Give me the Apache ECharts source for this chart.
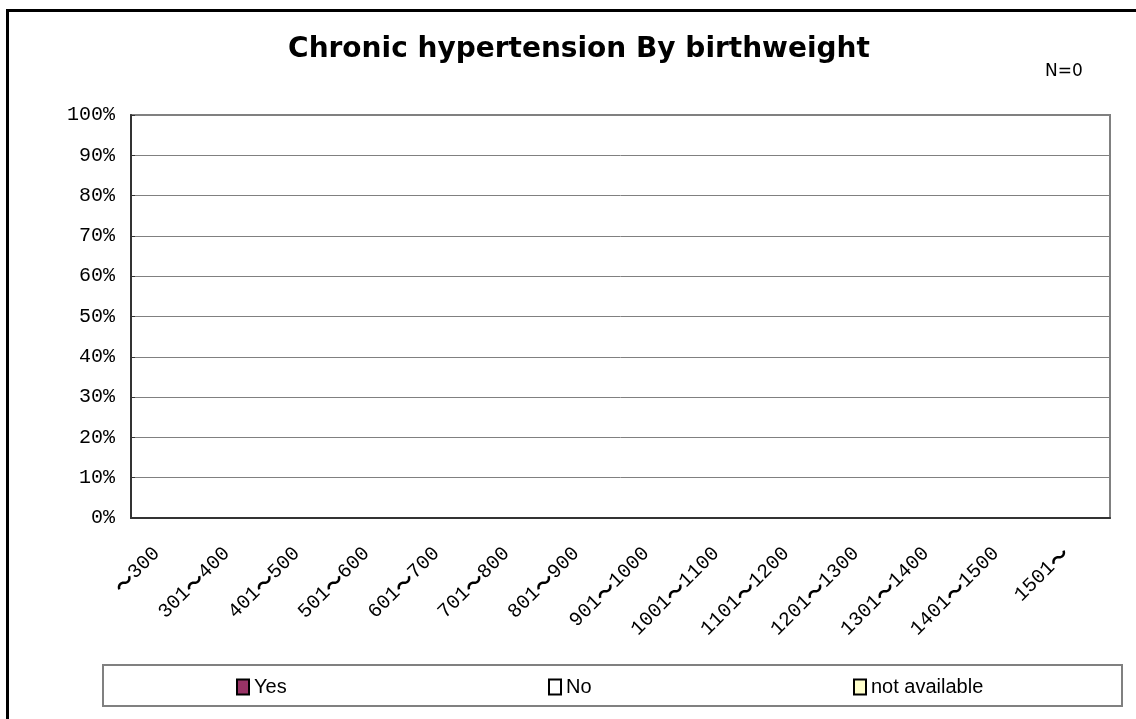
<!DOCTYPE html>
<html>
<head>
<meta charset="utf-8">
<title>Chronic hypertension By birthweight</title>
<script src="https://cdn.jsdelivr.net/npm/echarts@6/dist/echarts.min.js"></script>
<style>
  html, body { margin: 0; padding: 0; background: #fff; }
  #chart { width: 1136px; height: 719px; }
</style>
</head>
<body>
<div id="chart"></div>
<script>
  // birthweight classes (g)
  const categories = ['～300', '301～400', '401～500', '501～600', '601～700', '701～800', '801～900',
    '901～1000', '1001～1100', '1101～1200', '1201～1300', '1301～1400', '1401～1500', '1501～']
  // N=0, so every class is empty
  const yesValues = [0, 0, 0, 0, 0, 0, 0, 0, 0, 0, 0, 0, 0, 0]
  const noValues = [0, 0, 0, 0, 0, 0, 0, 0, 0, 0, 0, 0, 0, 0]
  const naValues = [0, 0, 0, 0, 0, 0, 0, 0, 0, 0, 0, 0, 0, 0]
  const seriesNames = ['Yes', 'No', 'not available']
  const seriesColors = ['#993366', '#ffffff', '#ffffcc']

  const monoFont = "'Liberation Mono', monospace"
  const sansFont = "'Liberation Sans', Arial, sans-serif"

  const chart = echarts.init(document.getElementById('chart'))

  // one legend per item, spaced out like the original box
  const legendLeft = [236, 548, 853]
  const legends = seriesNames.map((name, i) => ({
    data: [name],
    left: legendLeft[i],
    top: 677,
    padding: 0,
    itemWidth: 12,
    itemHeight: 15,
    icon: 'rect',
    itemStyle: { borderColor: '#000', borderWidth: 2 },
    textStyle: { fontFamily: sansFont, fontSize: 20, color: '#000' },
    selectedMode: false
  }))

  // x labels: the wave dash is drawn bolder than the digits
  function xLabel(val) {
    return val.split('～').join('{w|～}')
  }

  chart.setOption({
    animation: false,
    title: [
      {
        text: 'Chronic hypertension By birthweight',
        left: 574,
        textAlign: 'center',
        top: 31,
        textStyle: { fontFamily: "'DejaVu Sans', sans-serif", fontSize: 28, fontWeight: 'bold', color: '#000' }
      },
      {
        text: 'N=0',
        left: 1040,
        top: 58,
        textStyle: { fontFamily: "'DejaVu Sans', sans-serif", fontSize: 17, fontWeight: 'normal', color: '#000' }
      }
    ],
    legend: legends,
    grid: {
      left: 131,
      right: 26,
      top: 115,
      bottom: 201,
      show: true,
      borderColor: '#808080',
      borderWidth: 2,
      backgroundColor: '#fff'
    },
    xAxis: {
      type: 'category',
      data: categories,
      axisLine: { lineStyle: { color: '#333', width: 2 } },
      axisTick: { inside: true, length: 5, lineStyle: { color: '#333', width: 1 } },
      axisLabel: {
        rotate: 45,
        margin: 23,
        interval: 0,
        padding: [0, 13, 0, 0],
        fontFamily: monoFont,
        fontSize: 20,
        color: '#000',
        formatter: xLabel,
        rich: {
          w: { fontFamily: "'Noto Sans CJK JP', sans-serif", fontWeight: 'bold', fontSize: 20, color: '#000' }
        }
      }
    },
    yAxis: {
      type: 'value',
      min: 0,
      max: 100,
      interval: 10,
      axisLine: { show: true, lineStyle: { color: '#333', width: 2 } },
      axisTick: { show: true, inside: true, length: 4, lineStyle: { color: '#333' } },
      axisLabel: {
        formatter: '{value}%',
        margin: 16,
        fontFamily: monoFont,
        fontSize: 20,
        color: '#000'
      },
      splitLine: { lineStyle: { color: '#808080', width: 1 } }
    },
    series: [
      { name: seriesNames[0], type: 'bar', stack: 'all', data: yesValues, barCategoryGap: '50%', itemStyle: { color: seriesColors[0] } },
      { name: seriesNames[1], type: 'bar', stack: 'all', data: noValues, itemStyle: { color: seriesColors[1] } },
      { name: seriesNames[2], type: 'bar', stack: 'all', data: naValues, itemStyle: { color: seriesColors[2] } }
    ],
    graphic: [
      // outer frame
      { type: 'rect', shape: { x: 7.5, y: 10.5, width: 1140, height: 720 }, style: { fill: 'none', stroke: '#000', lineWidth: 3 }, silent: true },
      // legend box
      { type: 'rect', shape: { x: 103, y: 665, width: 1019, height: 41 }, style: { fill: 'none', stroke: '#808080', lineWidth: 2 }, z: -1, silent: true }
    ]
  })
</script>
</body>
</html>
